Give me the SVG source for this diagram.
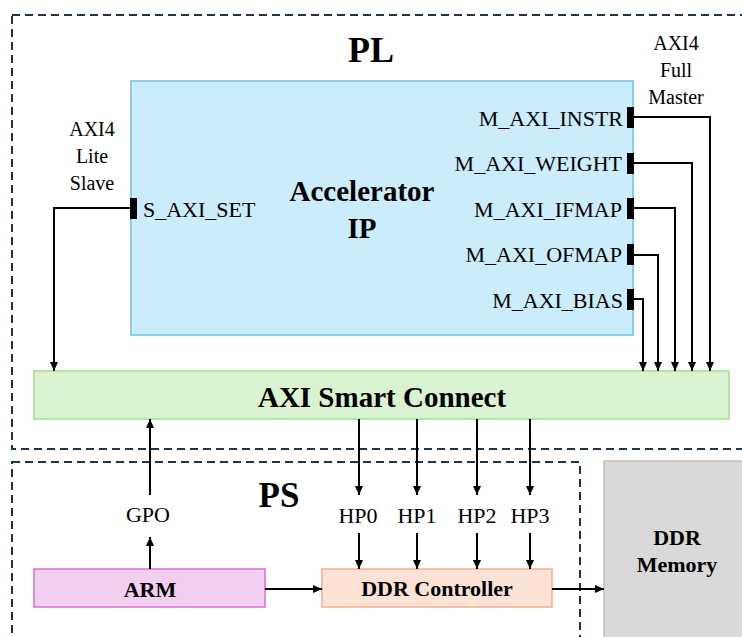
<svg xmlns="http://www.w3.org/2000/svg" width="742" height="637" viewBox="0 0 742 637">
<style>
.region{fill:none;stroke:#1e3545;stroke-width:2;stroke-dasharray:8 5}
.wire{fill:none;stroke:#000;stroke-width:2}
.arr{marker-end:url(#ah)}
.port{fill:#000}
.t{font-family:"Liberation Serif","Times New Roman",serif;fill:#000}
.b{font-weight:bold}
.c{text-anchor:middle}
.e{text-anchor:end}
.lbl{font-size:20px}
.pn{font-size:22px}
</style>
<defs>
<marker id="ah" markerWidth="9" markerHeight="8" refX="9" refY="4" orient="auto" markerUnits="userSpaceOnUse">
<path d="M0,0 L9,4 L0,8 z" fill="#000"/>
</marker>
</defs>
<g id="regions">
<rect class="region" x="12" y="15" width="760" height="434"/>
<rect class="region" x="12" y="462" width="568" height="200"/>
<text class="t b c" x="371" y="62" font-size="36">PL</text>
<text class="t b c" x="279" y="507" font-size="35">PS</text>
</g>
<g id="accelerator">
<rect x="131" y="81" width="502" height="254" fill="#cbecfa" stroke="#6cbfe8" stroke-width="1.5"/>
<text class="t b c" x="362" y="201" font-size="29">Accelerator</text>
<text class="t b c" x="362" y="238" font-size="29">IP</text>
<rect class="port" x="130" y="198" width="7" height="21"/>
<text class="t pn" x="143" y="217">S_AXI_SET</text>
<rect class="port" x="627" y="107" width="7" height="21"/>
<rect class="port" x="627" y="153" width="7" height="21"/>
<rect class="port" x="627" y="198" width="7" height="21"/>
<rect class="port" x="627" y="244" width="7" height="21"/>
<rect class="port" x="627" y="289" width="7" height="21"/>
<text class="t pn e" x="623" y="126">M_AXI_INSTR</text>
<text class="t pn e" x="622" y="171">M_AXI_WEIGHT</text>
<text class="t pn e" x="622" y="217">M_AXI_IFMAP</text>
<text class="t pn e" x="622" y="262">M_AXI_OFMAP</text>
<text class="t pn e" x="623" y="308">M_AXI_BIAS</text>
</g>
<g id="labels">
<text class="t lbl c" x="92" y="136">AXI4</text>
<text class="t lbl c" x="92" y="163">Lite</text>
<text class="t lbl c" x="92" y="190">Slave</text>
<text class="t lbl c" x="676" y="50">AXI4</text>
<text class="t lbl c" x="676" y="77">Full</text>
<text class="t lbl c" x="676" y="104">Master</text>
<text class="t pn c" x="148" y="522">GPO</text>
<text class="t pn c" x="358" y="523">HP0</text>
<text class="t pn c" x="417" y="523">HP1</text>
<text class="t pn c" x="477" y="523">HP2</text>
<text class="t pn c" x="530" y="523">HP3</text>
</g>
<g id="smartconnect">
<rect x="34" y="371" width="695" height="48" fill="#d9f2d0" stroke="#a6dd90" stroke-width="1.5"/>
<text class="t b c" x="382" y="407" font-size="29">AXI Smart Connect</text>
</g>
<g id="arm">
<rect x="34" y="569" width="231" height="38" fill="#f2cfee" stroke="#d970d2" stroke-width="1.5"/>
<text class="t b c" x="150" y="597" font-size="22">ARM</text>
</g>
<g id="ddrctrl">
<rect x="322" y="569" width="230" height="38" fill="#fbe2d5" stroke="#f2b08a" stroke-width="1.5"/>
<text class="t b c" x="437" y="596" font-size="22">DDR Controller</text>
</g>
<g id="ddrmem">
<rect x="604" y="461" width="160" height="200" fill="#d9d9d9" stroke="#bfbfbf" stroke-width="1.5"/>
<text class="t b c" x="677" y="545" font-size="22">DDR</text>
<text class="t b c" x="677" y="572" font-size="22">Memory</text>
</g>
<g id="connectors">
<path class="wire arr" d="M130,208 H54 V371"/>
<path class="wire arr" d="M634,117 H710 V371"/>
<path class="wire arr" d="M634,163 H692 V371"/>
<path class="wire arr" d="M634,208 H675 V371"/>
<path class="wire arr" d="M634,255 H658 V371"/>
<path class="wire arr" d="M634,299 H643 V371"/>
<path class="wire arr" d="M359,419 V495"/>
<path class="wire arr" d="M417,419 V495"/>
<path class="wire arr" d="M477,419 V495"/>
<path class="wire arr" d="M530,419 V495"/>
<path class="wire arr" d="M359,533 V569"/>
<path class="wire arr" d="M417,533 V569"/>
<path class="wire arr" d="M477,533 V569"/>
<path class="wire arr" d="M530,533 V569"/>
<path class="wire arr" d="M150,495 V419"/>
<path class="wire arr" d="M150,569 V537"/>
<path class="wire arr" d="M265,589 H322"/>
<path class="wire arr" d="M552,589 H604"/>
</g>
</svg>
